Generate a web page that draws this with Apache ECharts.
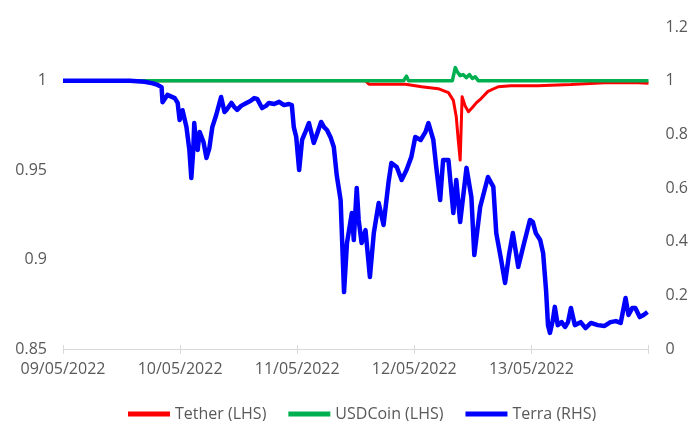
<!DOCTYPE html>
<html>
<head>
<meta charset="utf-8">
<script src="https://cdn.jsdelivr.net/npm/echarts@6/dist/echarts.min.js"></script>
<style>
html,body{margin:0;padding:0;background:#fff;}
#chart{width:691px;height:421px;}
</style>
</head>
<body>
<div id="chart"></div>
<script>
// x = hours since 09/05/2022 00:00
var dateLabels = ["09/05/2022", "10/05/2022", "11/05/2022", "12/05/2022", "13/05/2022", ""];

var terraTime = [0, 7.6, 13.7, 16.7, 18.4, 19.4, 20.2, 20.4, 21.4, 22.9, 23.5, 23.9, 24.5, 25.3, 25.9, 26.3, 26.7, 26.9, 27.3, 27.6, 28.0, 28.4, 28.8, 29.4, 30.0, 30.6, 31.4, 32.4, 33.1, 33.5, 34.5, 35.1, 35.7, 36.5, 37.6, 38.4, 39.2, 39.8, 40.8, 41.6, 42.2, 43.3, 44.3, 45.3, 46.3, 46.9, 47.3, 47.8, 48.4, 49.0, 49.6, 50.4, 51.0, 51.4, 52.0, 52.9, 53.5, 54.1, 54.9, 55.5, 56.1, 56.9, 57.6, 58.2, 58.8, 59.2, 59.6, 60.2, 60.6, 61.2, 62.0, 62.9, 63.7, 64.7, 65.7, 66.7, 67.3, 68.4, 69.4, 70.4, 71.4, 72.2, 73.3, 74.3, 74.9, 75.3, 75.9, 76.5, 77.3, 77.9, 79.0, 80.0, 80.6, 81.4, 82.7, 83.7, 84.3, 85.5, 87.1, 88.2, 88.8, 89.8, 90.6, 91.4, 92.2, 93.3, 94.3, 95.7, 96.3, 96.9, 97.8, 98.4, 99.0, 99.4, 99.8, 100.4, 100.8, 101.4, 102.2, 102.9, 103.5, 104.1, 104.9, 106.1, 107.1, 108.2, 109.6, 111.0, 112.2, 113.3, 114.3, 115.3, 115.9, 116.7, 117.3, 118.2, 119.0, 119.8];
var terraValue = [1.0, 1.0, 1.0, 0.996, 0.99, 0.984, 0.976, 0.92, 0.947, 0.935, 0.917, 0.853, 0.89, 0.827, 0.742, 0.637, 0.742, 0.842, 0.76, 0.742, 0.809, 0.79, 0.771, 0.712, 0.749, 0.827, 0.872, 0.939, 0.883, 0.891, 0.917, 0.902, 0.891, 0.906, 0.917, 0.924, 0.935, 0.932, 0.898, 0.906, 0.917, 0.913, 0.921, 0.909, 0.913, 0.909, 0.827, 0.79, 0.667, 0.779, 0.805, 0.842, 0.798, 0.768, 0.798, 0.846, 0.827, 0.816, 0.786, 0.753, 0.648, 0.555, 0.212, 0.395, 0.462, 0.507, 0.406, 0.6, 0.481, 0.395, 0.443, 0.268, 0.432, 0.544, 0.462, 0.619, 0.693, 0.678, 0.63, 0.667, 0.716, 0.79, 0.779, 0.809, 0.842, 0.835, 0.779, 0.678, 0.555, 0.704, 0.704, 0.507, 0.63, 0.473, 0.675, 0.566, 0.35, 0.529, 0.641, 0.604, 0.432, 0.332, 0.246, 0.35, 0.432, 0.306, 0.38, 0.481, 0.473, 0.432, 0.406, 0.358, 0.22, 0.089, 0.06, 0.108, 0.157, 0.089, 0.1, 0.082, 0.1, 0.153, 0.089, 0.1, 0.078, 0.097, 0.089, 0.086, 0.1, 0.104, 0.097, 0.19, 0.127, 0.153, 0.153, 0.119, 0.127, 0.138];

var tetherTime = [0, 62.0, 62.7, 66.7, 70.2, 73.5, 76.9, 79.0, 80.0, 80.6, 81.0, 81.4, 81.8, 82.4, 83.1, 83.9, 84.7, 85.7, 87.1, 89.2, 91.8, 97.3, 104.1, 111.0, 117.8, 120];
var tetherValue = [1.0, 1.0, 0.998, 0.998, 0.998, 0.9966, 0.9955, 0.9933, 0.989, 0.9798, 0.967, 0.9556, 0.991, 0.986, 0.9826, 0.985, 0.9876, 0.99, 0.994, 0.9966, 0.9972, 0.9972, 0.9978, 0.9989, 0.9989, 0.9985];

var usdcTime = [0, 69.8, 70.4, 70.8, 79.8, 80.4, 80.8, 81.4, 82.0, 82.7, 83.3, 83.9, 84.5, 85.1, 120];
var usdcValue = [1.0, 1.0, 1.0025, 1.0, 1.0, 1.0073, 1.005, 1.0028, 1.0034, 1.0017, 1.0034, 1.0012, 1.0022, 1.0, 1.0];

function zip(t, v) { return t.map(function (x, i) { return [x, v[i]]; }); }

var gray = '#595959';
var font = 'Open Sans';
var chart = echarts.init(document.getElementById('chart'), null, {renderer: 'canvas'});
chart.setOption({
  animation: false,
  backgroundColor: '#ffffff',
  grid: {left: 63, right: 40, top: 27, bottom: 72, containLabel: false},
  legend: {
    left: 128, top: 406, padding: 0,
    itemWidth: 42, itemHeight: 5, itemGap: 22,
    icon: 'rect',
    textStyle: {color: gray, fontFamily: font, fontSize: 16},
    data: ['Tether (LHS)', 'USDCoin (LHS)', 'Terra (RHS)']
  },
  xAxis: [{
    type: 'value', min: 0, max: 120, interval: 24,
    splitLine: {show: false},
    axisLine: {show: true, lineStyle: {color: '#d9d9d9', width: 1}},
    axisTick: {show: true, length: 5, lineStyle: {color: '#d9d9d9'}},
    axisLabel: {
      color: gray, fontFamily: font, fontSize: 16, margin: 12,
      formatter: function (v) { return dateLabels[Math.round(v / 24)] || ''; }
    }
  }, {
    type: 'value', min: 0, max: 120, interval: 24, position: 'bottom',
    splitLine: {show: false},
    axisLine: {show: false},
    axisTick: {show: true, inside: true, length: 4, lineStyle: {color: '#d9d9d9'}},
    axisLabel: {show: false}
  }],
  yAxis: [{
    type: 'value', min: 0.85, max: 1.03, interval: 0.05, position: 'left',
    splitLine: {show: false}, axisLine: {show: false}, axisTick: {show: false},
    axisLabel: {
      color: gray, fontFamily: font, fontSize: 16, margin: 16, showMaxLabel: false,
      formatter: function (v) { return String(+v.toFixed(2)); }
    }
  }, {
    type: 'value', min: 0, max: 1.2, interval: 0.2, position: 'right',
    splitLine: {show: false}, axisLine: {show: false}, axisTick: {show: false},
    axisLabel: {
      color: gray, fontFamily: font, fontSize: 16, margin: 17,
      formatter: function (v) { return String(+v.toFixed(1)); }
    }
  }],
  series: [{
    name: 'Tether (LHS)', type: 'line', yAxisIndex: 0, xAxisIndex: 0,
    data: zip(tetherTime, tetherValue), showSymbol: false, symbol: 'none',
    lineStyle: {color: '#ff0000', width: 3, join: 'round'}, itemStyle: {color: '#ff0000'}
  }, {
    name: 'USDCoin (LHS)', type: 'line', yAxisIndex: 0, xAxisIndex: 0,
    data: zip(usdcTime, usdcValue), showSymbol: false, symbol: 'none',
    lineStyle: {color: '#00b050', width: 3.5, join: 'round'}, itemStyle: {color: '#00b050'}
  }, {
    name: 'Terra (RHS)', type: 'line', yAxisIndex: 1, xAxisIndex: 0,
    data: zip(terraTime, terraValue), showSymbol: false, symbol: 'none',
    lineStyle: {color: '#0000ff', width: 4.5, join: 'round'}, itemStyle: {color: '#0000ff'}
  }]
});
</script>
</body>
</html>
